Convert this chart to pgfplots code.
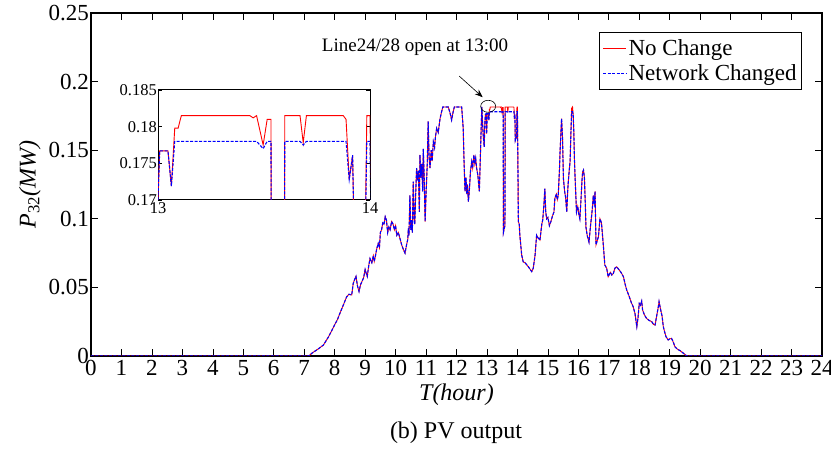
\documentclass[border=0pt]{standalone}
\usepackage{fontspec}
\setmainfont{Liberation Serif}
\usepackage{pgfplots}
\pgfplotsset{compat=1.18}
\usepackage{pgfplotstable}
\usetikzlibrary{arrows.meta}

% PV output of unit 32 (MW) over one day; columns: hour, no change, network changed
\pgfplotstableread{
t      red     blue
0      0       0
7.15   0       0
7.25   0.002   0.002
7.45   0.005   0.005
7.63   0.008   0.008
7.80   0.014   0.014
7.96   0.021   0.021
8.10   0.027   0.027
8.17   0.031   0.031
8.30   0.038   0.038
8.39   0.043   0.043
8.47   0.045   0.045
8.56   0.0445  0.0445
8.61   0.053   0.053
8.66   0.056   0.056
8.70   0.058   0.058
8.75   0.051   0.051
8.80   0.047   0.047
8.85   0.052   0.052
8.89   0.054   0.054
8.95   0.057   0.057
9.00   0.063   0.063
9.04   0.060   0.060
9.07   0.058   0.058
9.12   0.066   0.066
9.16   0.071   0.071
9.22   0.068   0.068
9.27   0.073   0.073
9.30   0.069   0.069
9.33   0.072   0.072
9.38   0.078   0.078
9.43   0.082   0.082
9.47   0.079   0.079
9.50   0.090   0.090
9.54   0.092   0.092
9.58   0.097   0.097
9.62   0.096   0.096
9.66   0.1015  0.1015
9.70   0.099   0.099
9.74   0.090   0.090
9.78   0.094   0.094
9.82   0.092   0.092
9.87   0.098   0.098
9.92   0.096   0.096
9.96   0.092   0.092
10.00  0.095   0.095
10.04  0.088   0.088
10.09  0.090   0.090
10.14  0.086   0.086
10.20  0.081   0.081
10.25  0.078   0.078
10.31  0.075   0.075
10.36  0.081   0.081
10.40  0.085   0.085
10.42  0.093   0.093
10.44  0.088   0.088
10.47  0.117   0.117
10.50  0.092   0.092
10.53  0.099   0.099
10.55  0.090   0.090
10.58  0.127   0.127
10.61  0.100   0.100
10.63  0.096   0.096
10.66  0.118   0.118
10.69  0.137   0.137
10.72  0.128   0.128
10.75  0.135   0.135
10.78  0.105   0.105
10.80  0.1465  0.1465
10.83  0.130   0.130
10.86  0.140   0.140
10.89  0.120   0.120
10.91  0.151   0.151
10.94  0.130   0.130
10.97  0.098   0.098
11.00  0.118   0.118
11.04  0.140   0.140
11.07  0.171   0.171
11.10  0.145   0.145
11.13  0.137   0.137
11.17  0.150   0.150
11.20  0.142   0.142
11.24  0.156   0.156
11.28  0.152   0.152
11.31  0.160   0.160
11.35  0.166   0.166
11.40  0.163   0.163
11.46  0.173   0.173
11.50  0.177   0.177
11.55  0.1815  0.1815
11.73  0.1815  0.1815
11.79  0.177   0.177
11.84  0.172   0.172
11.89  0.178   0.178
11.93  0.1815  0.1815
12.17  0.1815  0.1815
12.22  0.166   0.166
12.25  0.140   0.140
12.28  0.120   0.120
12.31  0.130   0.130
12.34  0.118   0.118
12.36  0.125   0.125
12.39  0.1125  0.1125
12.42  0.120   0.120
12.46  0.135   0.135
12.50  0.1415  0.1415
12.53  0.137   0.137
12.57  0.1465  0.1465
12.60  0.140   0.140
12.63  0.144   0.144
12.66  0.137   0.137
12.70  0.132   0.132
12.75  0.120   0.120
12.79  0.150   0.150
12.83  0.1815  0.1815
12.86  0.168   0.168
12.88  0.160   0.160
12.91  0.1525  0.1525
12.93  0.170   0.170
12.95  0.176   0.176
12.97  0.1765  0.1765
12.99  0.162   0.162
13.008 0.1767  0.1767
13.047 0.1767  0.1767
13.063 0.1719  0.1719
13.079 0.1798  0.178
13.095 0.1798  0.178
13.11  0.1815  0.178
13.433 0.1815  0.178
13.449 0.1812  0.178
13.465 0.1815  0.178
13.496 0.1775  0.1770
13.515 0.1810  0.178
13.533 0.1810  0.178
13.540 0.090   0.090
13.590 0.095   0.095
13.598 0.1815  0.178
13.670 0.1815  0.178
13.685 0.1778  0.1775
13.700 0.1815  0.178
13.874 0.1815  0.178
13.887 0.1810  0.178
13.902 0.1728  0.1728
13.918 0.1761  0.1761
13.930 0.157   0.157
13.975 0.160   0.160
13.985 0.1815  0.178
14.000 0.1815  0.178
14.020 0.130   0.130
14.030 0.098   0.098
14.060 0.096   0.096
14.080 0.088   0.088
14.140 0.0736  0.0736
14.19  0.0687  0.0687
14.25  0.068   0.068
14.36  0.065   0.065
14.47  0.0615  0.0615
14.52  0.064   0.064
14.58  0.0736  0.0736
14.63  0.088   0.088
14.68  0.086   0.086
14.74  0.0845  0.0845
14.80  0.096   0.096
14.83  0.099   0.099
14.87  0.110   0.110
14.90  0.122   0.122
14.93  0.105   0.105
14.96  0.100   0.100
15.00  0.101   0.101
15.05  0.095   0.095
15.10  0.098   0.098
15.15  0.102   0.102
15.20  0.105   0.105
15.23  0.115   0.115
15.28  0.118   0.118
15.31  0.114   0.114
15.34  0.117   0.117
15.38  0.1355  0.1355
15.40  0.149   0.149
15.45  0.173   0.173
15.48  0.160   0.160
15.51  0.1295  0.1295
15.55  0.120   0.120
15.58  0.116   0.116
15.62  0.105   0.105
15.65  0.120   0.120
15.67  0.127   0.127
15.70  0.135   0.135
15.73  0.142   0.142
15.76  0.165   0.165
15.78  0.1805  0.178
15.81  0.1815  0.178
15.83  0.176   0.176
15.85  0.165   0.165
15.87  0.145   0.145
15.89  0.132   0.132
15.92  0.116   0.116
15.94  0.105   0.105
15.98  0.109   0.109
16.02  0.103   0.103
16.05  0.100   0.100
16.09  0.115   0.115
16.12  0.128   0.128
16.14  0.134   0.134
16.17  0.1355  0.1355
16.20  0.130   0.130
16.23  0.110   0.110
16.25  0.094   0.094
16.29  0.088   0.088
16.35  0.083   0.083
16.40  0.095   0.095
16.44  0.103   0.103
16.47  0.110   0.110
16.49  0.117   0.117
16.52  0.112   0.112
16.55  0.120   0.120
16.58  0.081   0.081
16.62  0.084   0.084
16.66  0.087   0.087
16.71  0.100   0.100
16.76  0.097   0.097
16.82  0.081   0.081
16.87  0.0663  0.0663
16.93  0.064   0.064
16.98  0.0578  0.0578
17.05  0.061   0.061
17.10  0.059   0.059
17.15  0.0602  0.0602
17.20  0.064   0.064
17.26  0.065   0.065
17.33  0.063   0.063
17.40  0.061   0.061
17.48  0.0578  0.0578
17.54  0.052   0.052
17.59  0.048   0.048
17.66  0.044   0.044
17.75  0.0383  0.0383
17.80  0.036   0.036
17.86  0.031   0.031
17.92  0.0214  0.0214
17.96  0.028   0.028
18.00  0.0383  0.0383
18.04  0.037   0.037
18.08  0.040   0.040
18.11  0.0335  0.0335
18.17  0.030   0.030
18.24  0.0274  0.0274
18.32  0.026   0.026
18.41  0.025   0.025
18.47  0.023   0.023
18.52  0.0226  0.0226
18.57  0.029   0.029
18.62  0.035   0.035
18.65  0.0396  0.0396
18.70  0.034   0.034
18.75  0.029   0.029
18.79  0.0214  0.0214
18.84  0.017   0.017
18.88  0.014   0.014
18.95  0.0117  0.0117
19.00  0.0125  0.0125
19.06  0.0128  0.0128
19.12  0.010   0.010
19.17  0.0068  0.0068
19.25  0.005   0.005
19.34  0.0039  0.0039
19.45  0.002   0.002
19.56  0       0
24     0       0
}\pvdata

\pgfplotsset{
  pvframe/.style={
    scale only axis,
    axis line style={black, line width=1.1pt},
    tick style={black, line width=0.6pt},
    tick align=inside,
    /pgf/number format/assume math mode=true,
    legend image code/.code={\draw[##1] (0pt,0pt) -- (23pt,0pt);},
  },
  nochange/.style={red, line width=0.9pt},
  netchanged/.style={blue, line width=1.1pt, dash pattern=on 3pt off 1.5pt},
}

\begin{document}
\begin{tikzpicture}
\useasboundingbox (-91pt,-96pt) rectangle (740pt,356pt);

\begin{axis}[
  pvframe,
  at={(0pt,0pt)}, anchor=south west,
  width=731pt, height=343pt,
  xmin=0, xmax=24, ymin=0, ymax=0.25,
  xtick={0,1,...,24},
  ytick={0,0.05,0.1,0.15,0.2,0.25},
  yticklabels={0,0.05,0.1,0.15,0.2,0.25},
  major tick length=7pt,
  ticklabel style={font=\fontsize{23}{23}\selectfont},
  yticklabel style={inner xsep=2pt},
  xticklabel style={inner ysep=4pt},
  xlabel={\textit{T(hour)}},
  ylabel={\textit{P}\textsubscript{32}\textit{(MW)}},
  label style={font=\fontsize{24}{24}\selectfont},
  xlabel style={at={(axis description cs:0.5,-0.114)}, anchor=center},
  ylabel style={at={(axis description cs:-0.0835,0.5)}, anchor=center},
  legend style={at={(axis description cs:0.9726,0.9446)}, anchor=north east,
    font=\fontsize{23}{23}\selectfont, draw=black, line width=0.8pt,
    inner xsep=3pt, inner ysep=3pt,
    nodes={inner ysep=4pt}},
  legend cell align=left,
]
\addplot[nochange] table[x=t, y=red] {\pvdata};
\addlegendentry{No Change}
\addplot[netchanged] table[x=t, y=blue] {\pvdata};
\addlegendentry{Network Changed}

\node[font=\fontsize{19}{19}\selectfont] at (axis cs:10.64,0.2252) {Line24/28 open at 13:00};
\draw[-{Stealth[length=8pt,width=6pt]}, line width=0.6pt]
  (axis cs:12.09,0.204) -- (axis cs:12.86,0.1886);
\draw[line width=0.6pt] (axis cs:13.04,0.182) ellipse [x radius=7.5pt, y radius=6pt];
\end{axis}

\node[font=\fontsize{24}{24}\selectfont] at (365pt,-77pt) {(b) PV output};

% zoom on 13:00--14:00
\begin{axis}[
  pvframe,
  at={(67pt,156pt)}, anchor=south west,
  width=212pt, height=110pt,
  xmin=13, xmax=14, ymin=0.17, ymax=0.185,
  xtick={13,14},
  ytick={0.17,0.175,0.18,0.185},
  yticklabels={0.17,0.175,0.18,0.185},
  major tick length=4pt,
  axis line style={line width=1pt},
  axis background/.style={fill=white},
  ticklabel style={font=\fontsize{16.5}{16.5}\selectfont},
  yticklabel style={inner xsep=1pt},
  xticklabel style={inner ysep=2pt},
  restrict x to domain=12.5:14.5,
]
\addplot[nochange] table[x=t, y=red] {\pvdata};
\addplot[netchanged] table[x=t, y=blue] {\pvdata};
\end{axis}
\end{tikzpicture}
\end{document}
